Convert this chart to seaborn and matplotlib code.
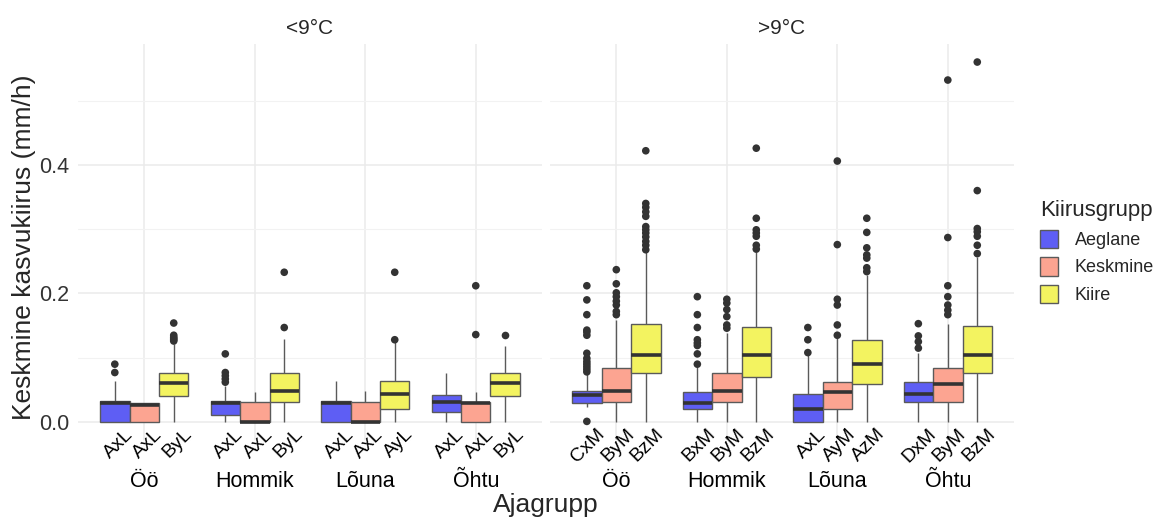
import seaborn as sns
import matplotlib.pyplot as plt
import pandas as pd
from matplotlib.ticker import FixedLocator

temps = ["<9°C", ">9°C"]
times = ["Öö", "Hommik", "Lõuna", "Õhtu"]
speeds = ["Aeglane", "Keskmine", "Kiire"]
colors = {"Aeglane": "#5E5EF4", "Keskmine": "#FCA491", "Kiire": "#F3F360"}

# box stats, rows = time group, cols = speed group
cold_lo = [[0.000, 0.000, 0.000], [0.000, 0.000, 0.000], [0.000, 0.000, 0.000], [0.000, 0.000, 0.000]]
cold_q1 = [[0.000, 0.000, 0.041], [0.011, 0.000, 0.031], [0.000, 0.000, 0.021], [0.015, 0.000, 0.041]]
cold_med = [[0.030, 0.026, 0.061], [0.030, 0.000, 0.048], [0.030, 0.000, 0.044], [0.031, 0.029, 0.061]]
cold_q3 = [[0.033, 0.029, 0.076], [0.032, 0.031, 0.076], [0.032, 0.031, 0.064], [0.042, 0.031, 0.076]]
cold_hi = [[0.064, 0.029, 0.121], [0.056, 0.046, 0.129], [0.064, 0.048, 0.125], [0.076, 0.046, 0.119]]
cold_out = [
    [[0.077, 0.090], [], [0.126, 0.128, 0.130, 0.132, 0.135, 0.154]],
    [[0.062, 0.067, 0.072, 0.077, 0.106], [], [0.147, 0.233]],
    [[], [], [0.128, 0.233]],
    [[], [0.136, 0.212], [0.136]],
]
cold_letters = [["AxL", "AxL", "ByL"], ["AxL", "AxL", "ByL"], ["AxL", "AxL", "AyL"], ["AxL", "AxL", "ByL"]]

warm_lo = [[0.023, 0.000, 0.000], [0.000, 0.000, 0.000], [0.000, 0.000, 0.000], [0.000, 0.000, 0.000]]
warm_q1 = [[0.029, 0.031, 0.076], [0.021, 0.031, 0.070], [0.000, 0.021, 0.059], [0.031, 0.031, 0.077]]
warm_med = [[0.042, 0.048, 0.105], [0.030, 0.048, 0.105], [0.021, 0.046, 0.090], [0.043, 0.059, 0.105]]
warm_q3 = [[0.048, 0.084, 0.152], [0.047, 0.076, 0.148], [0.043, 0.063, 0.128], [0.063, 0.084, 0.150]]
warm_hi = [[0.075, 0.159, 0.265], [0.085, 0.138, 0.265], [0.104, 0.130, 0.229], [0.108, 0.152, 0.257]]
warm_out = [
    [[0.001, 0.078, 0.082, 0.086, 0.090, 0.094, 0.099, 0.107, 0.135, 0.140, 0.143, 0.167, 0.190, 0.212],
     [0.167, 0.172, 0.182, 0.188, 0.195, 0.201, 0.215, 0.237],
     [0.268, 0.275, 0.281, 0.288, 0.294, 0.299, 0.304, 0.320, 0.327, 0.334, 0.340, 0.422]],
    [[0.090, 0.106, 0.119, 0.123, 0.128, 0.147, 0.167, 0.195],
     [0.146, 0.151, 0.164, 0.175, 0.185, 0.191],
     [0.269, 0.275, 0.289, 0.294, 0.299, 0.317, 0.426]],
    [[0.108, 0.128, 0.147],
     [0.135, 0.151, 0.182, 0.191, 0.276, 0.406],
     [0.234, 0.240, 0.255, 0.260, 0.271, 0.295, 0.317]],
    [[0.115, 0.125, 0.134, 0.153],
     [0.167, 0.174, 0.182, 0.195, 0.212, 0.287, 0.532],
     [0.262, 0.275, 0.289, 0.296, 0.301, 0.360, 0.560]],
]
warm_letters = [["CxM", "ByM", "BzM"], ["BxM", "ByM", "BzM"], ["AxL", "AyM", "AzM"], ["DxM", "ByM", "BzM"]]


def build_frames(lo, q1, med, q3, hi, out):
    core, flier = [], []
    for i, t in enumerate(times):
        for j, s in enumerate(speeds):
            for v in (lo[i][j], q1[i][j], med[i][j], q3[i][j], hi[i][j]):
                core.append((t, s, v))
            for v in out[i][j]:
                flier.append((t, s, v))
    cols = ["Ajagrupp", "Kiirusgrupp", "value"]
    return pd.DataFrame(core, columns=cols), pd.DataFrame(flier, columns=cols)


panels = [
    (build_frames(cold_lo, cold_q1, cold_med, cold_q3, cold_hi, cold_out), cold_letters),
    (build_frames(warm_lo, warm_q1, warm_med, warm_q3, warm_hi, warm_out), warm_letters),
]

sns.set_theme(style="white")
plt.rcParams['font.family'] = ['Liberation Sans', 'DejaVu Sans']
plt.rcParams['axes.spines.left'] = False
plt.rcParams['axes.spines.right'] = False
plt.rcParams['axes.spines.top'] = False
plt.rcParams['axes.spines.bottom'] = False

fig = plt.figure(figsize=(11.69, 5.2), dpi=100)
ax1 = fig.add_axes([0.0667, 0.1538, 0.397, 0.7615])
ax2 = fig.add_axes([0.4705, 0.1538, 0.397, 0.7615], sharey=ax1)
axes = [ax1, ax2]

width = 0.8
for ax, temp, ((core, flier), letters) in zip(axes, temps, panels):
    sns.boxplot(data=core, x="Ajagrupp", y="value", hue="Kiirusgrupp",
                order=times, hue_order=speeds, palette=colors, saturation=1,
                width=width, gap=0, whis=(0, 100), showfliers=False,
                linecolor="#5a5a5a", linewidth=1.0,
                medianprops=dict(color="#333333", linewidth=2.6),
                capprops=dict(visible=False), ax=ax)
    sns.stripplot(data=flier, x="Ajagrupp", y="value", hue="Kiirusgrupp",
                  order=times, hue_order=speeds,
                  palette={s: "#333333" for s in speeds},
                  dodge=True, jitter=False, size=5.5, linewidth=0,
                  legend=False, ax=ax)
    step = width / len(speeds)
    for i in range(len(times)):
        for j in range(len(speeds)):
            ax.text(i + (j - 1) * step + 0.14, -0.015, letters[i][j],
                    rotation=45, rotation_mode="anchor", ha="right", va="center",
                    fontsize=14, color="black", clip_on=False)
    ax.set_title(temp, fontsize=15, pad=7)
    ax.set_xlabel("")
    ax.set_ylabel("")
    ax.set_xlim(-0.6, 3.6)
    ax.grid(True, which="major", axis="both", color="#EBEBEB", linewidth=1.1)
    ax.yaxis.set_minor_locator(FixedLocator([0.1, 0.3, 0.5]))
    ax.grid(True, which="minor", axis="y", color="#F2F2F2", linewidth=0.8)
    ax.set_axisbelow(True)
    ax.tick_params(axis="x", length=0, pad=22, labelsize=15.5, colors="black")
    ax.tick_params(axis="y", which="both", length=0, pad=6, labelsize=15.5, colors="#333333")

handles, labels = ax2.get_legend_handles_labels()
for ax in axes:
    if ax.get_legend() is not None:
        ax.get_legend().remove()

ax1.set_ylim(-0.028, 0.588)
ax1.set_yticks([0.0, 0.2, 0.4])
ax1.set_yticklabels(["0.0", "0.2", "0.4"])
ax2.tick_params(axis="y", labelleft=False)
ax1.set_ylabel("Keskmine kasvukiirus (mm/h)", fontsize=19)
ax1.yaxis.set_label_coords(-0.09, 0.487)
fig.text(0.467, 0.029, "Ajagrupp", ha="center", va="center", fontsize=19)

fig.legend(handles, labels, title="Kiirusgrupp", loc="center left",
           bbox_to_anchor=(0.876, 0.515), frameon=False, fontsize=13,
           title_fontsize=16, alignment="left", handlelength=1.0,
           handleheight=1.2, labelspacing=0.45, handletextpad=0.9)

fig.savefig("out.png", dpi=100)
